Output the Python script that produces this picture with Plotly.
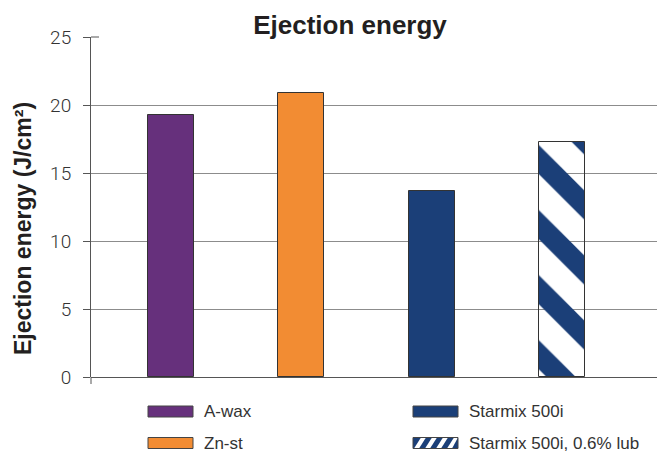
import plotly.graph_objects as go

# ---- data ----
categories = ["A-wax", "Zn-st", "Starmix 500i", "Starmix 500i, 0.6% lub"]
values = [19.3, 20.9, 13.7, 17.3]
colors = ["#66307c", "#f28c33", "#1b3f78", "#1b3f78"]
patterns = ["", "", "", "\\"]
y_tickvals = [0, 5, 10, 15, 20, 25]
grid_vals = [5, 10, 15, 20]
title_text = "Ejection energy"
y_title = "Ejection energy (J/cm²)"

# ---- layout geometry ----
W, H = 658, 452
L, R, T, B = 91, 1, 37, 75
PW, PH = W - L - R, H - T - B


def px(x):
    return (x - L) / PW


def py(y):
    return (H - B - y) / PH


FONT = "Liberation Sans, Arial, Helvetica, sans-serif"
LIGHT = "Roboto, Liberation Sans, Arial, sans-serif"
TXT = "#333333"

fig = go.Figure()
fig.add_trace(go.Bar(
    x=categories, y=values, width=0.354,
    marker=dict(
        color=colors,
        line=dict(color="#333333", width=1),
        pattern=dict(shape=patterns, fgcolor="white", bgcolor=colors,
                     size=46, solidity=0.45, fillmode="replace"),
    ),
    showlegend=False, hoverinfo="x+y",
))

shapes = []
# axis tail below zero and inner tick at top
shapes.append(dict(type="line", xref="paper", yref="paper", x0=0, x1=0,
                   y0=0, y1=py(384), line=dict(color="#555555", width=1)))
shapes.append(dict(type="line", xref="paper", yref="paper", x0=px(91), x1=px(99),
                   y0=1, y1=1, line=dict(color="#555555", width=1)))

annotations = []
# legend (manual, to reproduce wide swatches)
leg_items = [
    (148, 411.5, 0),
    (148, 443, 1),
    (413, 411.5, 2),
    (413, 443, 3),
]
sw_w, sw_h = 45, 11
for x0, yc, idx in leg_items:
    y0, y1 = yc - sw_h / 2, yc + sw_h / 2
    shapes.append(dict(type="rect", xref="paper", yref="paper",
                       x0=px(x0), x1=px(x0 + sw_w), y0=py(y1), y1=py(y0),
                       fillcolor=colors[idx], line=dict(width=0)))
    if patterns[idx]:
        for k in range(4):
            bx = x0 + 1 + 11 * k
            pts = [(bx, y1), (bx + 5, y1), (bx + 12, y0), (bx + 7, y0)]
            pts = [(min(max(a, x0), x0 + sw_w), b) for a, b in pts]
            path = "M " + " L ".join(f"{px(a):.5f},{py(b):.5f}" for a, b in pts) + " Z"
            shapes.append(dict(type="path", xref="paper", yref="paper", path=path,
                               fillcolor="white", line=dict(width=0)))
    shapes.append(dict(type="rect", xref="paper", yref="paper",
                       x0=px(x0), x1=px(x0 + sw_w), y0=py(y1), y1=py(y0),
                       fillcolor="rgba(0,0,0,0)", line=dict(color="#444444", width=1)))
    annotations.append(dict(text=categories[idx], xref="paper", yref="paper",
                            x=px(x0 + sw_w + 9), y=py(yc), xanchor="left", yanchor="middle",
                            showarrow=False, font=dict(family=FONT, size=17, color=TXT)))

annotations.append(dict(text=f"<b>{y_title}</b>", xref="paper", yref="paper",
                        x=px(23), y=py(229), xanchor="center", yanchor="middle",
                        textangle=-90, showarrow=False,
                        font=dict(family=FONT, size=23, color="#231f20")))

fig.update_layout(
    width=W, height=H,
    margin=dict(l=L, r=R, t=T, b=B),
    paper_bgcolor="white", plot_bgcolor="white",
    title=dict(text=f"<b>{title_text}</b>", x=350 / W, xref="container", xanchor="center",
               y=1 - 25 / H, yref="container", yanchor="middle",
               font=dict(family=FONT, size=26, color="#231f20")),
    xaxis=dict(type="category", range=[-0.614, 3.73], showticklabels=False,
               showgrid=False, zeroline=False, showline=False, ticks=""),
    yaxis=dict(range=[0, 25], tickvals=y_tickvals, ticks="outside", ticklen=7,
               tickcolor="#555555", tickwidth=1, showline=True, linecolor="#555555",
               linewidth=1, showgrid=False, zeroline=True, zerolinecolor="#555555",
               zerolinewidth=1, ticklabelstandoff=8,
               tickfont=dict(family=LIGHT, size=19, color=TXT, weight=300),
               minor=dict(tickvals=grid_vals, showgrid=True, gridcolor="#8c8c8c",
                          gridwidth=1, ticks="")),
    shapes=shapes, annotations=annotations,
    bargap=0,
)

fig.write_html("out.html")
